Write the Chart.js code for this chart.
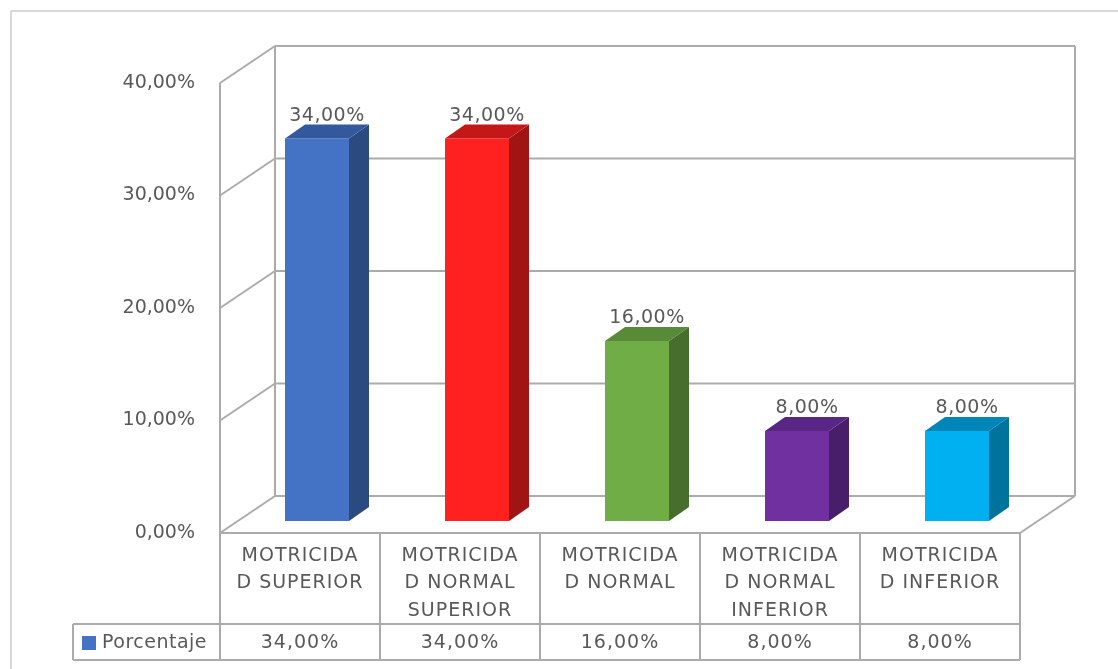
<!DOCTYPE html>
<html>
<head>
<meta charset="utf-8">
<script src="https://cdn.jsdelivr.net/npm/chart.js@4/dist/chart.umd.min.js"></script>
<style>
  body { margin: 0; background: #fff; }
  #wrap { position: relative; width: 1118px; height: 669px; }
</style>
</head>
<body>
<div id="wrap"><canvas id="barChart" width="1118" height="669"></canvas></div>
<script>
// data
let categories = [
    ['MOTRICIDA', 'D SUPERIOR'],
    ['MOTRICIDA', 'D NORMAL', 'SUPERIOR'],
    ['MOTRICIDA', 'D NORMAL'],
    ['MOTRICIDA', 'D NORMAL', 'INFERIOR'],
    ['MOTRICIDA', 'D INFERIOR']
]
let porcentaje = [34, 34, 16, 8, 8]
let seriesName = 'Porcentaje'
let tickValues = [0, 10, 20, 30, 40]

let frontColors = ['#4472c4', '#ff2020', '#70ad47', '#7030a0', '#00b0f0']
let sideColors = ['#2b4a80', '#a11414', '#486e2d', '#481e6a', '#00739c']
let topColors = ['#33599c', '#c41818', '#588a38', '#582684', '#0085b8']

const FONT = '"DejaVu Sans", Verdana, sans-serif'
const TXT = '#595959'
const LINE = '#ababab'
// depth of the 3d box and of the bars inside it
const DX = 55, DY = -37
const BX = 17, BY = -12
const DDX = 20, DDY = -14

function fmt(v) {
    return v.toFixed(2).replace('.', ',') + '%'
}

function line(ctx, x1, y1, x2, y2) {
    ctx.beginPath()
    ctx.moveTo(x1, y1)
    ctx.lineTo(x2, y2)
    ctx.stroke()
}

let box3d = {
    id: 'box3d',
    beforeDraw(chart) {
        let ctx = chart.ctx
        let a = chart.chartArea
        let y = chart.scales.y
        ctx.save()
        // outer frame
        ctx.strokeStyle = '#d9d9d9'
        ctx.lineWidth = 2
        line(ctx, 11, 11, 1118, 11)
        line(ctx, 11, 11, 11, 669)

        ctx.strokeStyle = LINE
        ctx.lineWidth = 2
        for (let v of tickValues) {
            let yy = y.getPixelForValue(v)
            line(ctx, a.left, yy, a.left + DX, yy + DY)
            line(ctx, a.left + DX, yy + DY, a.right + DX, yy + DY)
        }
        line(ctx, a.left, a.top, a.left, a.bottom)
        line(ctx, a.left + DX, a.top + DY, a.left + DX, a.bottom + DY)
        line(ctx, a.right + DX, a.top + DY, a.right + DX, a.bottom + DY)
        line(ctx, a.right, a.bottom, a.right + DX, a.bottom + DY)
        ctx.restore()
    },
    beforeDatasetsDraw(chart) {
        chart.ctx.save()
        chart.ctx.translate(BX, BY)
    },
    afterDatasetsDraw(chart) {
        let ctx = chart.ctx
        let meta = chart.getDatasetMeta(0)
        meta.data.forEach(function(bar, i) {
            let p = bar.getProps(['x', 'y', 'base', 'width'], true)
            let l = p.x - p.width / 2, r = p.x + p.width / 2
            let t = p.y, b = p.base
            ctx.fillStyle = sideColors[i]
            ctx.beginPath()
            ctx.moveTo(r, t)
            ctx.lineTo(r + DDX, t + DDY)
            ctx.lineTo(r + DDX, b + DDY)
            ctx.lineTo(r, b)
            ctx.closePath()
            ctx.fill()
            ctx.fillStyle = topColors[i]
            ctx.beginPath()
            ctx.moveTo(l, t)
            ctx.lineTo(l + DDX, t + DDY)
            ctx.lineTo(r + DDX, t + DDY)
            ctx.lineTo(r, t)
            ctx.closePath()
            ctx.fill()
            // value label
            ctx.fillStyle = TXT
            ctx.font = '19px ' + FONT
            ctx.letterSpacing = '0.5px'
            ctx.textAlign = 'center'
            ctx.textBaseline = 'alphabetic'
            ctx.fillText(fmt(porcentaje[i]), p.x + DDX / 2, t + DDY - 4)
        })
        ctx.restore()
    },
    afterDraw(chart) {
        // data table under the chart
        let ctx = chart.ctx
        let a = chart.chartArea
        let x = chart.scales.x
        let n = categories.length
        let cw = (a.right - a.left) / n
        let r1 = a.bottom, r2 = a.bottom + 91, r3 = a.bottom + 127
        let legL = 73
        ctx.save()
        ctx.strokeStyle = LINE
        ctx.lineWidth = 2
        line(ctx, a.left, r1, a.right, r1)
        line(ctx, legL, r2, a.right, r2)
        line(ctx, legL, r3, a.right, r3)
        line(ctx, legL, r2, legL, r3)
        for (let i = 0; i <= n; i++) {
            line(ctx, a.left + i * cw, r1, a.left + i * cw, r3)
        }
        ctx.fillStyle = TXT
        ctx.font = '19px ' + FONT
        ctx.letterSpacing = '1px'
        ctx.textAlign = 'center'
        ctx.textBaseline = 'middle'
        categories.forEach(function(lines, i) {
            let cx = x.getPixelForValue(i)
            lines.forEach(function(s, k) {
                ctx.fillText(s, cx, r1 + 23 + k * 27.5)
            })
            ctx.fillText(fmt(porcentaje[i]), cx, (r2 + r3) / 2 + 1)
        })
        // legend key
        ctx.fillStyle = frontColors[0]
        ctx.fillRect(legL + 9, r2 + 12, 14, 14)
        ctx.fillStyle = TXT
        ctx.letterSpacing = '0.5px'
        ctx.textAlign = 'left'
        ctx.fillText(seriesName, legL + 29, (r2 + r3) / 2 + 1)
        ctx.restore()
    }
}

let ctx = document.getElementById('barChart')
let myBarChart = new Chart(ctx, {
    type: 'bar',
    data: {
        labels: categories,
        datasets: [{
            label: seriesName,
            data: porcentaje,
            backgroundColor: frontColors,
            categoryPercentage: 1,
            barPercentage: 0.4,
            clip: false
        }]
    },
    options: {
        responsive: false,
        animation: false,
        devicePixelRatio: 1,
        layout: { padding: { left: 0, right: 98, top: 83, bottom: 136 } },
        plugins: { legend: { display: false }, tooltip: { enabled: false } },
        scales: {
            x: { display: false },
            y: {
                min: 0,
                max: 40,
                afterFit: function(s) { s.width = 220 },
                grid: { display: false, drawTicks: false },
                border: { display: false },
                ticks: {
                    stepSize: 10,
                    padding: 25,
                    color: TXT,
                    font: { family: FONT, size: 19 },
                    callback: function(v) { return fmt(v) }
                }
            }
        }
    },
    plugins: [box3d]
});
</script>
</body>
</html>
